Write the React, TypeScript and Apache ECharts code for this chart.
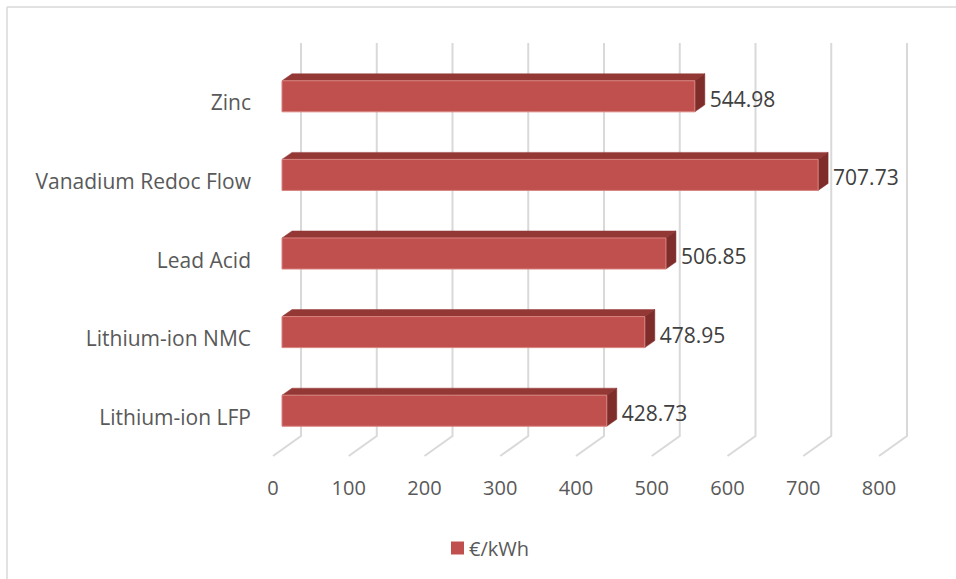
import React, { useEffect, useRef } from "react";
import * as echarts from "echarts";

const categories = ["Lithium-ion LFP", "Lithium-ion NMC", "Lead Acid", "Vanadium Redoc Flow", "Zinc"];
const values = [428.73, 478.95, 506.85, 707.73, 544.98];
const tickValues = [0, 100, 200, 300, 400, 500, 600, 700, 800];
const seriesName = "€/kWh";

const FONT = "'Open Sans', sans-serif";

export default function App() {
  const ref = useRef<HTMLDivElement>(null);
  useEffect(() => {
    const chart = echarts.init(ref.current!, null, { renderer: "svg" });
    const backDx = 28, backDy = -20;
    const barDx = 9, barDy = -6;
    const depthX = 10, depthY = -7;
    chart.setOption({
      animation: false,
      backgroundColor: "#ffffff",
      grid: { left: 273, right: 956 - 879, top: 63, bottom: 579 - 456, containLabel: false },
      xAxis: {
        type: "value",
        min: 0,
        max: 800,
        interval: 100,
        axisLine: { show: false },
        axisTick: { show: false },
        splitLine: { show: false },
        axisLabel: { color: "#595959", fontSize: 20, fontFamily: FONT, margin: 21 },
      },
      yAxis: {
        type: "category",
        data: categories,
        axisLine: { show: false },
        axisTick: { show: false },
        axisLabel: { color: "#595959", fontSize: 21, fontFamily: FONT, margin: 22 },
      },
      legend: {
        show: true,
        left: 446,
        top: 533,
        icon: "rect",
        itemWidth: 13,
        itemHeight: 13,
        itemGap: 6,
        textStyle: { color: "#595959", fontSize: 20, fontFamily: FONT },
        data: [seriesName],
      },
      graphic: [
        { type: "line", shape: { x1: 7, y1: 7, x2: 956, y2: 7 }, style: { stroke: "#d9d9d9", lineWidth: 1.5 } },
        { type: "line", shape: { x1: 7, y1: 7, x2: 7, y2: 579 }, style: { stroke: "#d9d9d9", lineWidth: 1.5 } },
      ],
      series: [
        {
          type: "custom",
          name: "grid",
          silent: true,
          data: tickValues.map((v) => [v, 0]),
          renderItem: (params: any, api: any) => {
            const cs = params.coordSys;
            const p = api.coord([api.value(0), 0]);
            const x = p[0];
            return {
              type: "polyline",
              shape: {
                points: [
                  [x + backDx, cs.y + backDy],
                  [x + backDx, cs.y + cs.height + backDy],
                  [x, cs.y + cs.height],
                ],
              },
              style: { stroke: "#d9d9d9", lineWidth: 2, fill: "none" },
              z2: 0,
            };
          },
          z: 1,
        },
        {
          type: "custom",
          name: seriesName,
          itemStyle: { color: "#c0504d" },
          data: values.map((v, i) => [v, i]),
          renderItem: (params: any, api: any) => {
            const v = api.value(0);
            const idx = api.value(1);
            const s = api.coord([0, idx]);
            const e = api.coord([v, idx]);
            const band = api.size([0, 1])[1];
            const h = band * 0.395;
            const x0 = s[0] + barDx;
            const x1 = e[0] + barDx;
            const cy = s[1] + barDy;
            const yt = cy - h / 2;
            const yb = cy + h / 2;
            return {
              type: "group",
              children: [
                {
                  type: "polygon",
                  shape: { points: [[x0, yt], [x0 + depthX, yt + depthY], [x1 + depthX, yt + depthY], [x1, yt]] },
                  style: { fill: "#943836", stroke: "#943836", lineWidth: 0.5 },
                },
                {
                  type: "polygon",
                  shape: { points: [[x1, yt], [x1 + depthX, yt + depthY], [x1 + depthX, yb + depthY], [x1, yb]] },
                  style: { fill: "#7f2d2b", stroke: "#7f2d2b", lineWidth: 0.5 },
                },
                {
                  type: "rect",
                  shape: { x: x0, y: yt, width: x1 - x0, height: h },
                  style: { fill: "#c0504d", stroke: "#d8837f", lineWidth: 1 },
                },
                {
                  type: "text",
                  style: {
                    text: v.toFixed(2),
                    x: x1 + depthX + 5,
                    y: cy + 2.5,
                    verticalAlign: "middle",
                    align: "left",
                    fill: "#404040",
                    font: `21px ${FONT}`,
                  },
                },
              ],
            };
          },
          z: 2,
        },
      ],
    });
    return () => chart.dispose();
  }, []);
  return <div ref={ref} style={{ position: "fixed", left: 0, top: 0, width: 956, height: 579 }} />;
}
